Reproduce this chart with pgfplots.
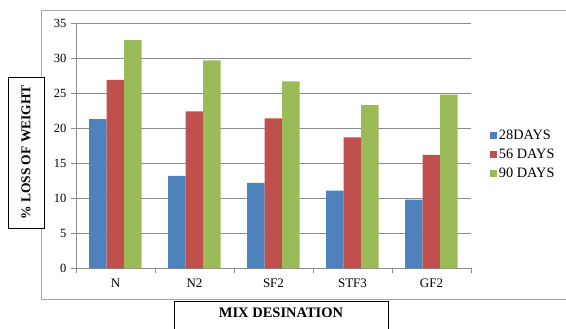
\documentclass[border=0pt]{standalone}
\usepackage{pgfplots}
\pgfplotsset{compat=1.18}
\usepackage{fontspec}
\setmainfont{Liberation Serif}

\definecolor{bar28}{HTML}{4F81BD}
\definecolor{bar56}{HTML}{C0504D}
\definecolor{bar90}{HTML}{9BBB59}
\definecolor{gridgray}{HTML}{8C8C8C}
\definecolor{framegray}{HTML}{A6A6A6}

\begin{document}
\begin{tikzpicture}[x=1pt,y=1pt]
\useasboundingbox (0,0) rectangle (566,329);

% outer chart frame
\draw[framegray, line width=0.9pt] (41,30) rectangle (600,319);

\begin{axis}[
  at={(76pt,60.7pt)}, anchor=south west,
  scale only axis, width=395pt, height=245pt,
  ybar=0pt, bar width=17.5pt,
  xmin=-0.5, xmax=4.5,
  ymin=0, ymax=35, ytick={0,5,...,35},
  xtick={-0.5,0.5,1.5,2.5,3.5,4.5},
  xticklabels={N,N2,SF2,STF3,GF2},
  x tick label as interval,
  axis x line*=bottom, axis y line*=left,
  axis line style={gridgray, line width=0.8pt},
  ymajorgrids, grid style={gridgray, line width=0.8pt},
  tick align=outside, major tick length=5pt,
  tick style={gridgray, line width=0.8pt},
  /pgf/number format/assume math mode=true,
  yticklabel style={font=\fontsize{12.5}{14}\selectfont, xshift=-1pt},
  xticklabel style={font=\fontsize{13}{15}\selectfont, yshift=-2pt},
  legend style={at={(1.040,0.466)}, anchor=west, draw=none, fill=none,
    font=\fontsize{14.3}{16}\selectfont, row sep=4pt},
  legend cell align=left,
  legend image code/.code={\fill[#1] (0pt,-3.5pt) rectangle (7pt,3.5pt);},
]
\addplot[fill=bar28, draw=none] coordinates {(0,21.3) (1,13.2) (2,12.2) (3,11.1) (4,9.8)};
\addplot[fill=bar56, draw=none] coordinates {(0,26.9) (1,22.4) (2,21.4) (3,18.7) (4,16.2)};
\addplot[fill=bar90, draw=none] coordinates {(0,32.6) (1,29.7) (2,26.7) (3,23.3) (4,24.8)};
\legend{28DAYS, 56 DAYS, 90 DAYS}
\end{axis}

% y axis title box
\node[draw=black, fill=white, line width=0.8pt, rotate=90,
      minimum width=151pt, minimum height=36pt, inner sep=0pt,
      font=\bfseries\fontsize{13.5}{15}\selectfont]
  at (26,176.5) {\% LOSS OF WEIGHT};

% x axis title box
\draw[black, line width=0.8pt, fill=white] (174,-20) rectangle (388,28);
\node[font=\bfseries\fontsize{14.5}{16}\selectfont] at (281,16) {MIX DESINATION};
\end{tikzpicture}
\end{document}
